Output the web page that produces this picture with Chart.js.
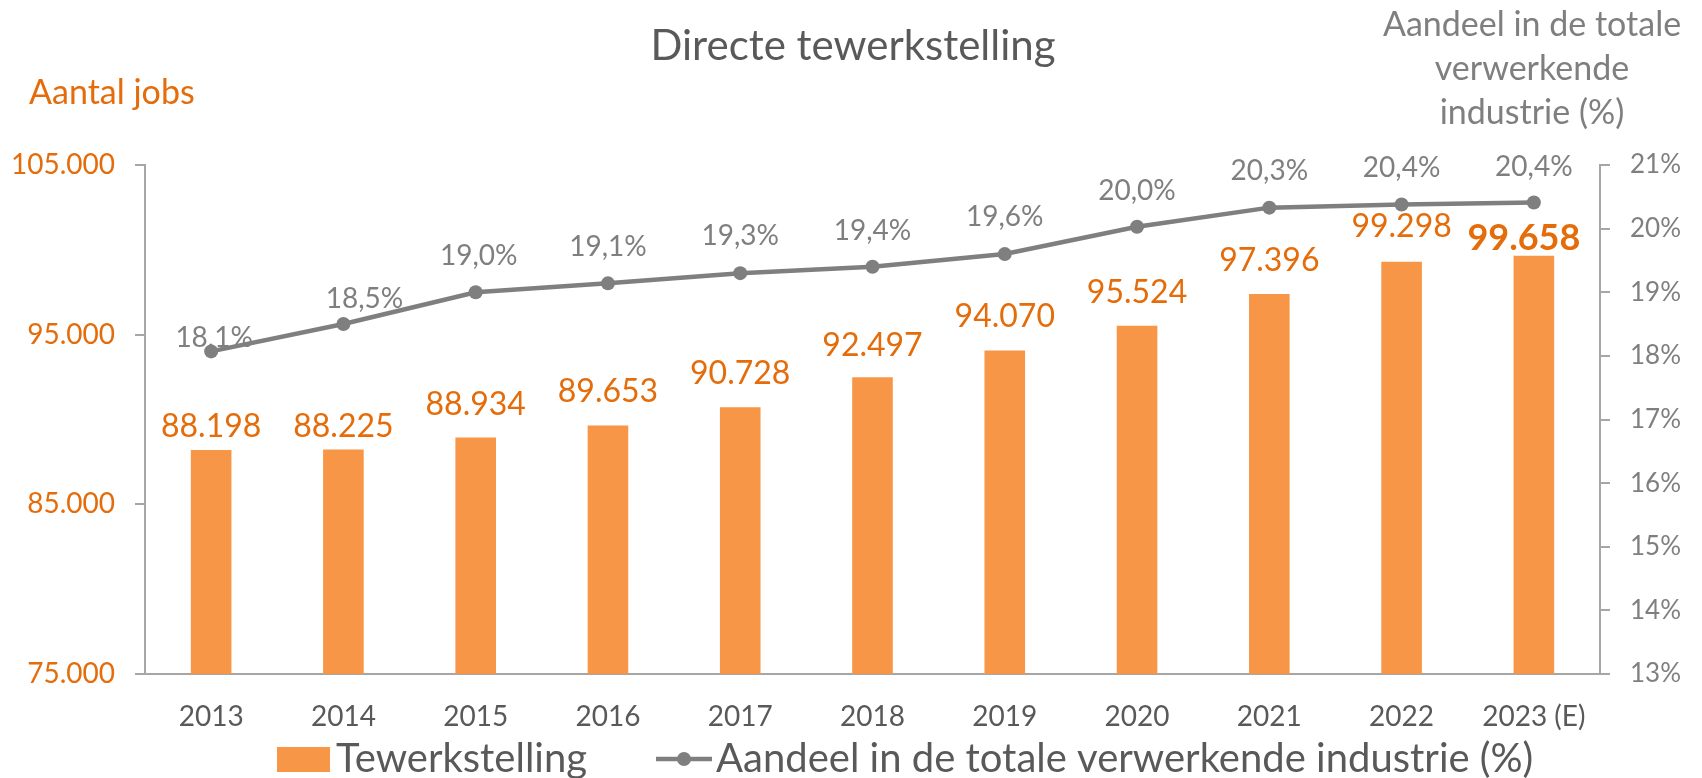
<!DOCTYPE html>
<html>
<head>
<meta charset="utf-8">
<script src="https://cdn.jsdelivr.net/npm/chart.js@4"></script>
<style>
  html, body { margin: 0; padding: 0; background: #fff; }
  #wrap { position: relative; width: 1702px; height: 778px; }
</style>
</head>
<body>
<div id="wrap"><canvas id="jobsChart"></canvas></div>
<script>
const categories = ['2013', '2014', '2015', '2016', '2017', '2018', '2019', '2020', '2021', '2022', '2023 (E)'];
const jobs = [88198, 88225, 88934, 89653, 90728, 92497, 94070, 95524, 97396, 99298, 99658];
const share = [18.07, 18.5, 19.0, 19.14, 19.3, 19.4, 19.6, 20.03, 20.33, 20.38, 20.41];
const jobTicks = [75000, 85000, 95000, 105000];
const shareTicks = [13, 14, 15, 16, 17, 18, 19, 20, 21];

// label nudges (Excel had a few labels moved by hand)
const barLabelGap = [13, 13, 23, 23, 23, 21, 23, 23, 23, 25, 6];
const shareLabelLift = [13, 25, 36, 36, 37, 36, 37, 36, 37, 36, 36];
const shareLabelShift = [3, 21, 3, 0, 0, 0, 0, 0, 0, 0, 0];

const ORANGE = '#F79646';
const ORANGE_TXT = '#E46C0A';
const GREY = '#7F7F7F';
const DARK = '#595959';
const AXIS = '#A6A6A6';
const FONT = 'Lato';

const fmtJobs = v => String(v).replace(/\B(?=(\d{3})+(?!\d))/g, '.');
const fmtShare = v => v.toFixed(1).replace('.', ',') + '%';

const labelPlugin = {
  id: 'valueLabels',
  afterDatasetsDraw(chart) {
    const ctx = chart.ctx;
    ctx.save();
    ctx.textAlign = 'center';
    ctx.textBaseline = 'alphabetic';
    chart.getDatasetMeta(1).data.forEach((bar, i) => {
      const last = i === jobs.length - 1;
      ctx.font = (last ? 'bold 36px ' : '32px ') + FONT;
      ctx.fillStyle = ORANGE_TXT;
      ctx.fillText(fmtJobs(jobs[i]), bar.x - (last ? 10 : 0), bar.y - barLabelGap[i]);
    });
    ctx.font = '28px ' + FONT;
    ctx.fillStyle = GREY;
    ctx.textBaseline = 'middle';
    chart.getDatasetMeta(0).data.forEach((pt, i) => {
      ctx.fillText(fmtShare(share[i]), pt.x + shareLabelShift[i], pt.y - shareLabelLift[i]);
    });
    ctx.restore();
  },
  afterDraw(chart) {
    const ctx = chart.ctx;
    ctx.save();
    ctx.textBaseline = 'middle';
    // title
    ctx.textAlign = 'center';
    ctx.fillStyle = DARK;
    ctx.font = '42px ' + FONT;
    ctx.fillText('Directe tewerkstelling', 853, 46);
    // left axis title
    ctx.textAlign = 'left';
    ctx.fillStyle = ORANGE_TXT;
    ctx.font = '34px ' + FONT;
    ctx.fillText('Aantal jobs', 29, 93);
    // right axis title
    ctx.textAlign = 'center';
    ctx.fillStyle = GREY;
    ctx.font = '34px ' + FONT;
    ['Aandeel in de totale', 'verwerkende', 'industrie (%)'].forEach((t, k) => {
      ctx.fillText(t, 1532, 25 + k * 44);
    });
    // legend
    ctx.textAlign = 'left';
    ctx.fillStyle = ORANGE;
    ctx.fillRect(277, 747, 53, 25);
    ctx.fillStyle = DARK;
    ctx.font = '40px ' + FONT;
    ctx.fillText('Tewerkstelling', 336, 759);
    ctx.strokeStyle = GREY;
    ctx.lineWidth = 4.5;
    ctx.beginPath();
    ctx.moveTo(656, 759);
    ctx.lineTo(712, 759);
    ctx.stroke();
    ctx.fillStyle = GREY;
    ctx.beginPath();
    ctx.arc(684, 759, 7, 0, Math.PI * 2);
    ctx.fill();
    ctx.fillStyle = DARK;
    ctx.fillText('Aandeel in de totale verwerkende industrie (%)', 716, 759);
    ctx.restore();
  }
};

const ctx = document.getElementById('jobsChart').getContext('2d');
new Chart(ctx, {
  data: {
    labels: categories,
    datasets: [
      {
        type: 'line',
        label: 'Aandeel in de totale verwerkende industrie (%)',
        data: share,
        yAxisID: 'y2',
        borderColor: GREY,
        backgroundColor: GREY,
        borderWidth: 4.5,
        pointRadius: 7,
        pointBackgroundColor: GREY,
        pointBorderWidth: 0,
        tension: 0,
        order: 0
      },
      {
        type: 'bar',
        label: 'Tewerkstelling',
        data: jobs,
        yAxisID: 'y',
        backgroundColor: ORANGE,
        categoryPercentage: 1,
        barPercentage: 0.307,
        order: 1
      }
    ]
  },
  options: {
    responsive: true,
    maintainAspectRatio: false,
    animation: false,
    events: [],
    layout: { padding: { top: 165, bottom: 0, left: 0, right: 0 } },
    plugins: {
      legend: { display: false },
      title: { display: false },
      tooltip: { enabled: false }
    },
    scales: {
      x: {
        grid: { display: false, drawTicks: false },
        border: { display: true, color: AXIS, width: 2 },
        ticks: { color: DARK, font: { family: FONT, size: 28 }, padding: 26, maxRotation: 0 },
        afterFit(scale) { scale.height = 104; }
      },
      y: {
        position: 'left',
        min: jobTicks[0],
        max: jobTicks[jobTicks.length - 1],
        afterBuildTicks(scale) { scale.ticks = jobTicks.map(v => ({ value: v })); },
        grid: { drawOnChartArea: false, tickLength: 10, color: AXIS, lineWidth: 2 },
        border: { color: AXIS, width: 2 },
        ticks: { color: ORANGE_TXT, font: { family: FONT, size: 28 }, padding: 20, callback: v => fmtJobs(v) },
        afterFit(scale) { scale.width = 145; }
      },
      y2: {
        position: 'right',
        min: shareTicks[0],
        max: shareTicks[shareTicks.length - 1],
        afterBuildTicks(scale) { scale.ticks = shareTicks.map(v => ({ value: v })); },
        grid: { drawOnChartArea: false, tickLength: 10, color: AXIS, lineWidth: 2 },
        border: { color: AXIS, width: 2 },
        ticks: { color: GREY, font: { family: FONT, size: 26 }, padding: 20, callback: v => v + '%' },
        afterFit(scale) { scale.width = 102; }
      }
    }
  },
  plugins: [labelPlugin]
});
</script>
</body>
</html>
